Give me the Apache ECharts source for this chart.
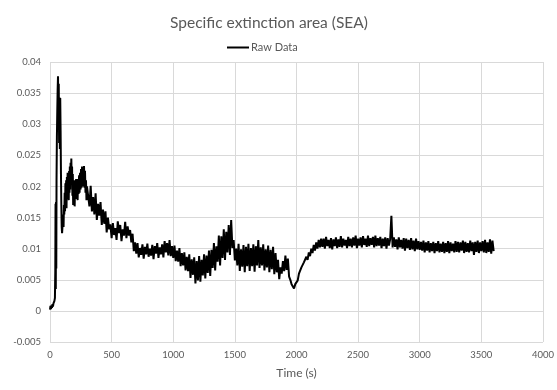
<!DOCTYPE html>
<html>
<head>
<meta charset="utf-8">
<script src="https://cdn.jsdelivr.net/npm/echarts@6/dist/echarts.min.js"></script>
<style>
html,body{margin:0;padding:0;background:#fff;}
#chart{width:557px;height:390px;}
</style>
</head>
<body>
<div id="chart"></div>
<script>
const chartTitle = 'Specific extinction area (SEA)';
const seriesName = 'Raw Data';
const xAxisTitle = 'Time (s)';

// Early part of the record (irregular sampling, seconds)
const earlyTimes = [0,4,8,12,16,20,24,28,32,36,40,
  43,45,47,49,51,53,
  56,59,62,65,68,71,74,77,80,83,86,89,92,95,98,101,104,107,110,113,
  116,119,122,125,128,131,134,137,140,143,146,149,152,155,158,161,164,167,170,173,
  176,179,182,185,188,191,194,197,200,
  204,208,212,216,220,224,228,232,236,240,244,248,252,256,260,264,268,272,276,280,284,288,292,296,300];
const earlySEA = [0.0002,0.0008,0.0003,0.0009,0.0005,0.0011,0.0007,0.0012,0.0009,0.0016,0.0021,
  0.0065,0.0172,0.0035,0.0175,0.0068,0.021,
  0.028,0.032,0.0355,0.0377,0.031,0.0365,0.027,0.0343,0.026,0.0342,
  0.029,0.022,0.017,0.0135,0.0125,0.0128,0.0124,0.0155,0.0135,0.017,
  0.0155,0.019,0.016,0.0205,0.0175,0.021,0.0165,0.0215,0.018,0.0222,
  0.0185,0.0215,0.0178,0.0225,0.019,0.0232,0.0195,0.0238,0.0205,0.0245,
  0.021,0.0232,0.0185,0.022,0.017,0.0205,0.0175,0.021,0.0168,
  0.0205,0.018,0.0212,0.0185,0.0208,0.0178,0.0212,0.0188,0.0218,0.019,0.0222,0.0195,0.0228,0.0198,0.0232,0.0205,0.0228,0.02,0.0233,0.0198,0.0225,0.019,0.021,0.0178,0.02];

// Later part of the record: one reading every 10 s from 310 s to 3600 s
const laterStart = 310;
const laterStep = 10;
const laterSEA = [
  0.0198,0.0168,0.0201,0.0160,0.0183,0.0155,0.0189,0.0146,0.0172,0.0153,
  0.0175,0.0138,0.0163,0.0140,0.0160,0.0126,0.0150,0.0131,0.0139,0.0117,
  0.0141,0.0122,0.0133,0.0114,0.0144,0.0125,0.0138,0.0112,0.0131,0.0121,
  0.0143,0.0117,0.0136,0.0121,0.0130,0.0110,0.0124,0.0096,0.0110,0.0092,
  0.0109,0.0086,0.0101,0.0090,0.0107,0.0084,0.0103,0.0091,0.0108,0.0087,
  0.0100,0.0089,0.0106,0.0083,0.0104,0.0092,0.0109,0.0085,0.0102,0.0091,
  0.0107,0.0086,0.0112,0.0094,0.0109,0.0089,0.0114,0.0088,0.0104,0.0085,
  0.0105,0.0080,0.0097,0.0079,0.0101,0.0072,0.0093,0.0073,0.0094,0.0065,
  0.0087,0.0064,0.0091,0.0053,0.0083,0.0058,0.0086,0.0044,0.0080,0.0049,
  0.0088,0.0047,0.0082,0.0057,0.0091,0.0052,0.0089,0.0061,0.0097,0.0056,
  0.0098,0.0069,0.0109,0.0065,0.0104,0.0079,0.0121,0.0073,0.0120,0.0085,
  0.0131,0.0082,0.0127,0.0094,0.0138,0.0090,0.0146,0.0101,0.0114,0.0081,
  0.0100,0.0073,0.0108,0.0064,0.0099,0.0071,0.0106,0.0062,0.0103,0.0072,
  0.0108,0.0064,0.0101,0.0072,0.0107,0.0063,0.0104,0.0073,0.0114,0.0069,
  0.0102,0.0073,0.0107,0.0065,0.0099,0.0070,0.0105,0.0062,0.0098,0.0067,
  0.0103,0.0059,0.0093,0.0062,0.0082,0.0051,0.0070,0.0060,0.0080,0.0064,
  0.0089,0.0066,0.0084,0.0055,0.0050,0.0043,0.0040,0.0036,0.0043,0.0045,
  0.0049,0.0060,0.0058,0.0070,0.0067,0.0078,0.0075,0.0087,0.0082,0.0094,
  0.0088,0.0100,0.0093,0.0106,0.0097,0.0110,0.0100,0.0114,0.0102,0.0116,
  0.0103,0.0116,0.0100,0.0119,0.0104,0.0114,0.0101,0.0117,0.0099,0.0115,
  0.0104,0.0118,0.0101,0.0115,0.0103,0.0120,0.0102,0.0116,0.0105,0.0114,
  0.0101,0.0119,0.0104,0.0116,0.0102,0.0118,0.0105,0.0121,0.0101,0.0116,
  0.0105,0.0118,0.0102,0.0120,0.0106,0.0116,0.0103,0.0121,0.0104,0.0117,
  0.0106,0.0119,0.0102,0.0121,0.0104,0.0117,0.0105,0.0119,0.0101,0.0116,
  0.0104,0.0118,0.0100,0.0117,0.0105,0.0115,0.0153,0.0102,0.0118,0.0103,
  0.0115,0.0099,0.0118,0.0102,0.0114,0.0100,0.0117,0.0097,0.0116,0.0101,
  0.0114,0.0098,0.0117,0.0099,0.0113,0.0096,0.0116,0.0099,0.0112,0.0098,
  0.0111,0.0097,0.0113,0.0094,0.0110,0.0097,0.0112,0.0094,0.0109,0.0096,
  0.0111,0.0093,0.0109,0.0096,0.0112,0.0094,0.0108,0.0095,0.0111,0.0093,
  0.0109,0.0095,0.0112,0.0093,0.0110,0.0096,0.0108,0.0094,0.0112,0.0095,
  0.0111,0.0094,0.0110,0.0097,0.0113,0.0093,0.0111,0.0095,0.0109,0.0094,
  0.0113,0.0096,0.0110,0.0090,0.0111,0.0095,0.0113,0.0093,0.0110,0.0096,
  0.0112,0.0094,0.0114,0.0093,0.0110,0.0095,0.0115,0.0092,0.0113,0.0096
];

const xTicks = {min: 0, max: 4000, interval: 500};
const yTicks = {min: -0.005, max: 0.04, interval: 0.005};

const seriesData = [];
earlyTimes.forEach((t, i) => seriesData.push([t, earlySEA[i]]));
laterSEA.forEach((v, i) => seriesData.push([laterStart + i * laterStep, v]));

const FONT = 'Lato, "Liberation Sans", sans-serif';
const TXT = '#595959';
const GRIDC = '#d9d9d9';

const chart = echarts.init(document.getElementById('chart'), null, {renderer: 'canvas'});
chart.setOption({
  backgroundColor: '#ffffff',
  animation: false,
  title: {
    text: chartTitle,
    left: 264,
    top: 10,
    textAlign: 'center',
    textStyle: {fontFamily: FONT, fontSize: 15.5, fontWeight: 'normal', color: TXT}
  },
  legend: {
    data: [seriesName],
    left: 222,
    top: 37,
    icon: 'rect',
    itemWidth: 22,
    itemHeight: 2,
    itemGap: 4,
    textStyle: {fontFamily: FONT, fontSize: 11, color: TXT, padding: [0, 0, 0, -3]}
  },
  grid: {left: 50, right: 14, top: 62, bottom: 48, containLabel: false},
  xAxis: {
    type: 'value',
    min: xTicks.min, max: xTicks.max, interval: xTicks.interval,
    name: xAxisTitle,
    nameLocation: 'middle',
    nameGap: 25,
    nameTextStyle: {fontFamily: FONT, fontSize: 12, color: TXT},
    axisLine: {show: false},
    axisTick: {show: false},
    axisLabel: {fontFamily: FONT, fontSize: 9.5, color: TXT, margin: 8, formatter: v => String(v)},
    splitLine: {show: true, lineStyle: {color: GRIDC, width: 1}}
  },
  yAxis: {
    type: 'value',
    min: yTicks.min, max: yTicks.max, interval: yTicks.interval,
    axisLine: {show: false},
    axisTick: {show: false},
    axisLabel: {fontFamily: FONT, fontSize: 9.5, color: TXT, margin: 9},
    splitLine: {show: true, lineStyle: {color: GRIDC, width: 1}}
  },
  series: [{
    name: seriesName,
    type: 'line',
    data: seriesData,
    showSymbol: false,
    symbol: 'none',
    lineStyle: {color: '#000000', width: 2},
    itemStyle: {color: '#000000'}
  }]
});
</script>
</body>
</html>
